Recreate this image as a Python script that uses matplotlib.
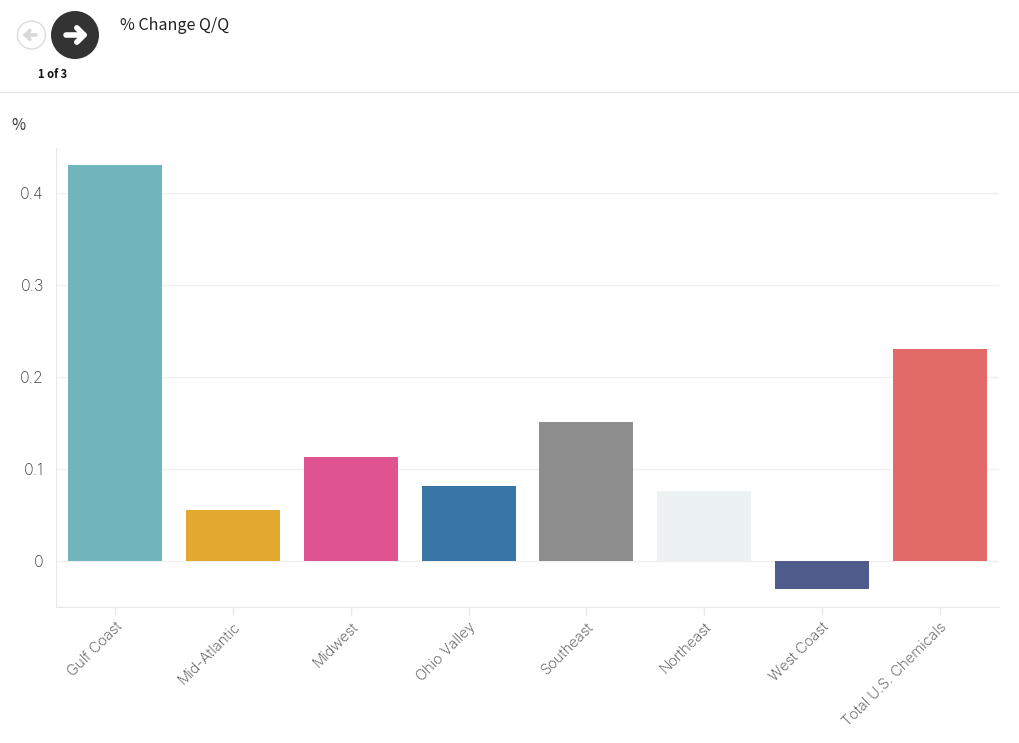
import matplotlib
matplotlib.use('Agg')
import matplotlib.pyplot as plt
from matplotlib.patches import Circle

categories = ["Gulf Coast", "Mid-Atlantic", "Midwest", "Ohio Valley", "Southeast",
              "Northeast", "West Coast", "Total U.S. Chemicals"]
values = [0.43, 0.055, 0.113, 0.082, 0.151, 0.076, -0.03, 0.23]
colors = ["#70b4bc", "#e3a92f", "#df5391", "#3976a8", "#8e8e8e", "#ecf1f1", "#4f5b8a", "#e26b67"]
y_ticks = [0, 0.1, 0.2, 0.3, 0.4]
y_labels = ["0", "0.1", "0.2", "0.3", "0.4"]

W, H = 1020, 743
fig = plt.figure(figsize=(W / 100, H / 100), dpi=100)

# whole figure overlay in pixel coordinates, for the header controls
bg = fig.add_axes([0, 0, 1, 1])
bg.set_xlim(0, W)
bg.set_ylim(H, 0)
bg.axis('off')

def arrow(cx, cy, size, direction, color, lw):
    # shaft and chevron with round ends
    tip = cx + direction * size
    bg.plot([cx - direction * size, tip], [cy, cy], color=color, lw=lw, solid_capstyle='round')
    bg.plot([tip - direction * size * 0.8, tip, tip - direction * size * 0.8],
            [cy - size * 0.8, cy, cy + size * 0.8],
            color=color, lw=lw, solid_capstyle='round', solid_joinstyle='round')

bg.add_patch(Circle((31.5, 35), 14, facecolor='white', edgecolor='#dcdcdc', lw=1))
arrow(31, 35, 5.5, -1, '#d8d8d8', 2.6)
bg.add_patch(Circle((75, 35), 24, facecolor='#333333', edgecolor='none'))
arrow(75, 35, 9, 1, 'white', 4)
bg.text(53, 74, "1 of 3", fontsize=8, fontweight='bold', family='Noto Sans CJK SC',
        ha='center', va='center', color='#111111')
bg.text(120, 25.5, "% Change Q/Q", fontsize=11.6, family='Noto Sans CJK SC',
        ha='left', va='center', color='#222222')
bg.text(11, 125, "%", fontsize=11, family='Noto Sans CJK SC', ha='left', va='center', color='#333333')
bg.plot([0, W], [92, 92], color='#e8e8e8', lw=1)

ax = fig.add_axes([56.5 / W, 1 - 607 / H, (998.5 - 56.5) / W, (607 - 148) / H])
ax.set_axisbelow(True)
x = range(len(categories))
ax.bar(x, values, width=0.8, color=colors)
ax.set_xlim(-0.5, 7.5)
ax.set_ylim(-0.05, 0.449)
ax.set_yticks(y_ticks)
ax.set_yticklabels(y_labels, fontsize=11.5, family='Inter', fontweight='light', color='#3a3a3a')
ax.set_xticks(list(x))
ax.set_xticklabels(categories, rotation=45, ha='right', rotation_mode='anchor',
                   fontsize=10.6, family='Inter', fontweight='light', color='#3a3a3a')
ax.yaxis.grid(True, color='#f0f0f0', lw=1)
ax.tick_params(axis='y', length=0, pad=9)
ax.tick_params(axis='x', length=6, width=1, color='#e8e8e8', pad=3)
for s in ['top', 'right']:
    ax.spines[s].set_visible(False)
for s in ['left', 'bottom']:
    ax.spines[s].set_color('#e8e8e8')

fig.savefig('out.png', dpi=100)
